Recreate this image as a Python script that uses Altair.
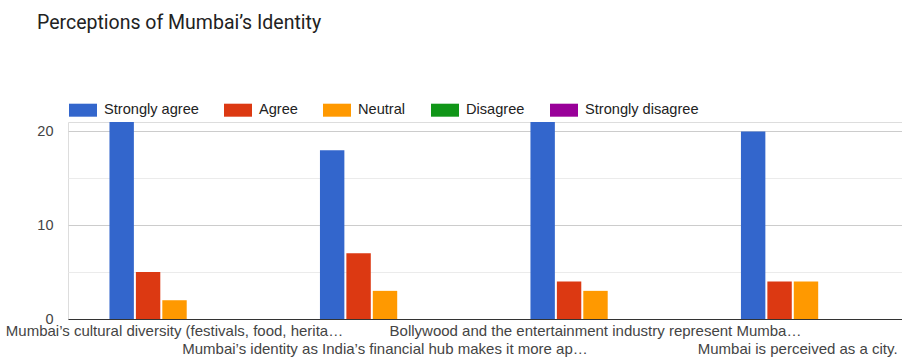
import json
import altair as alt
import pandas as pd

questions = [
    "Mumbai’s cultural diversity (festivals, food, herita…",
    "Mumbai’s identity as India’s financial hub makes it more ap…",
    "Bollywood and the entertainment industry represent Mumba…",
    "Mumbai is perceived as a city.",
]
responses = ["Strongly agree", "Agree", "Neutral", "Disagree", "Strongly disagree"]
strongly_agree = [21, 18, 21, 20]
agree = [5, 7, 4, 4]
neutral = [2, 3, 3, 4]
disagree = [0, 0, 0, 0]
strongly_disagree = [0, 0, 0, 0]
colors = ["#3366cc", "#dc3912", "#ff9900", "#109618", "#990099"]
y_ticks = [0, 5, 10, 15, 20]

series = [strongly_agree, agree, neutral, disagree, strongly_disagree]
rows = []
for qi, q in enumerate(questions):
    for r, vals in zip(responses, series):
        rows.append({"question": q, "response": r, "count": vals[qi]})
df = pd.DataFrame(rows)

second_row = json.dumps([questions[1], questions[3]], ensure_ascii=False)
last_q = json.dumps(questions[3], ensure_ascii=False)
# last label kept inside the chart's right edge: trailing no-break spaces
# (closed by a zero-width space so they are not trimmed) shift it left
label_expr = (
    f"datum.value == {last_q} ? ['', datum.label + '\u00a0\u00a0\u00a0\u00a0\u200b'] : "
    f"(indexof({second_row}, datum.value) >= 0 ? ['', datum.label] : datum.label)"
)

chart = alt.Chart(df).mark_bar().encode(
    x=alt.X(
        "question:N",
        sort=questions,
        scale=alt.Scale(range=[0, 844.5], paddingInner=0.382, paddingOuter=0.197),
        axis=alt.Axis(
            title=None, labelAngle=0, labelExpr=label_expr, labelFont="Arial",
            labelFontSize=15, labelColor="#444", labelBaseline="top", labelPadding=4,
            labelLineHeight=18, ticks=False, domainColor="#333", domainWidth=1.2,
            labelLimit=600, labelOverlap=False, grid=False,
        ),
    ),
    xOffset=alt.XOffset("response:N", sort=responses,
                        scale=alt.Scale(paddingInner=0.076, paddingOuter=0)),
    y=alt.Y(
        "count:Q",
        scale=alt.Scale(domain=[0, 21], nice=False),
        axis=alt.Axis(
            values=y_ticks, labelExpr="datum.value % 10 == 0 ? datum.label : ''",
            title=None, ticks=False, domain=False, labelPadding=15,
            labelFont="Arial", labelFontSize=14.5, labelColor="#444",
            gridColor={"condition": {"test": "datum.value % 10 == 0", "value": "#cccccc"},
                       "value": "#ebebeb"},
        ),
    ),
    color=alt.Color(
        "response:N", sort=responses,
        scale=alt.Scale(domain=responses, range=colors),
        legend=alt.Legend(
            orient="none", legendX=1, legendY=-26, direction="horizontal", title=None,
            symbolType="M-1,-0.464H1V0.464H-1Z", symbolSize=784, symbolStrokeWidth=0,
            symbolOpacity=1, labelFont="Arial", labelFontSize=14.6, labelColor="#222",
            columnPadding=25, labelOffset=7, padding=0, labelLimit=400,
        ),
    ),
).properties(
    width=834,
    height=197,
    autosize="none",
    padding={"left": 68, "top": 122, "right": 0, "bottom": 43},
    title=alt.TitleParams(
        "Perceptions of Mumbai’s Identity", anchor="start", frame="group", dx=-31,
        dy=-59, font="Roboto", fontSize=19.5, fontWeight="normal", color="#222",
    ),
).configure_view(stroke=None).configure(background="white")

chart.save("out.html", embed_options={"renderer": "svg", "actions": False})
